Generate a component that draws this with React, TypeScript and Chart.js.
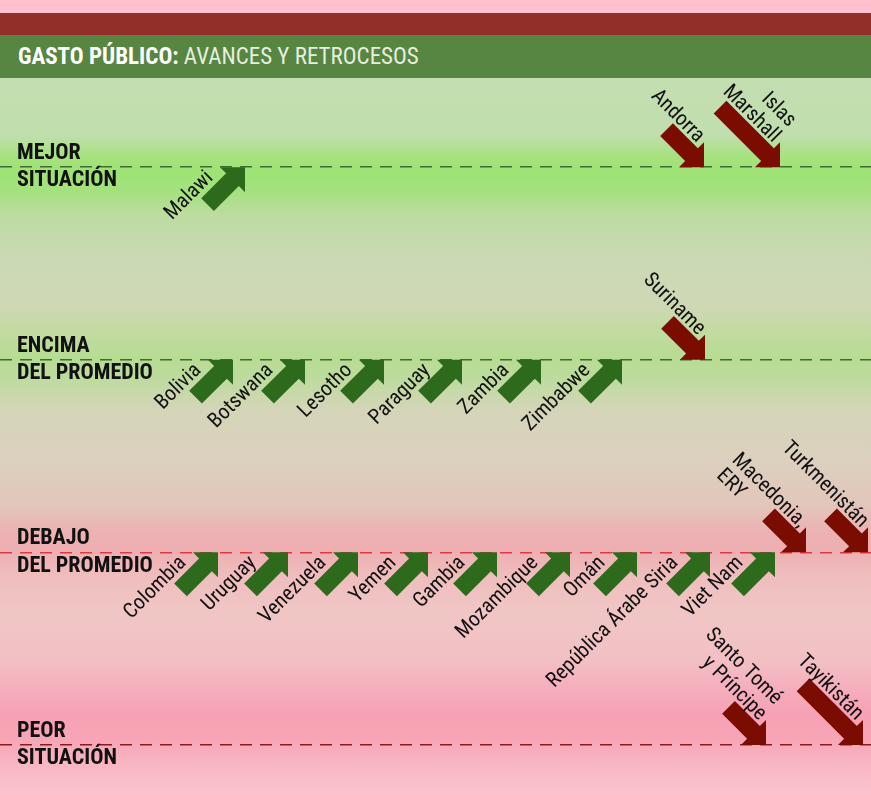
import React, { useEffect, useRef } from "react";
import { Chart, registerables } from "chart.js";

Chart.register(...registerables);

const FONT = '"Roboto Condensed", "Liberation Sans Narrow", Roboto, sans-serif';

// ---- Data ----
const levelValues = [3, 2, 1, 0];
const levelTitles = [
  ["MEJOR", "SITUACIÓN"],
  ["ENCIMA", "DEL PROMEDIO"],
  ["DEBAJO", "DEL PROMEDIO"],
  ["PEOR", "SITUACIÓN"],
];

const countryNames = [
  "Malawi", "Andorra", "Islas\nMarshall",
  "Bolivia", "Botswana", "Lesotho", "Paraguay", "Zambia", "Zimbabwe", "Suriname",
  "Colombia", "Uruguay", "Venezuela", "Yemen", "Gambia", "Mozambique", "Omán",
  "República Árabe Siria", "Viet Nam", "Macedonia,\nERY", "Turkmenistán",
  "Santo Tomé\ny Príncipe", "Tayikistán",
];
const countryLevel = [3, 3, 3, 2, 2, 2, 2, 2, 2, 2, 1, 1, 1, 1, 1, 1, 1, 1, 1, 1, 1, 0, 0];
const countryPosition = [
  245, 704, 780,
  233, 305, 384, 462, 541, 622, 705,
  218, 288, 358, 428, 497, 570, 637, 710, 775, 806, 868,
  766, 863,
];
const countryChange = [
  1, -1, -1.6,
  1, 1, 1, 1, 1, 1, -1,
  1, 1, 1, 1, 1, 1, 1, 1, 1, -1, -1,
  -1, -1.6,
];
const leftAlignedLabels = ["Macedonia,\nERY"];

// ---- Styles ----
const levelLineColors: Record<number, string> = {
  3: "#3f6b31",
  2: "#3f6b31",
  1: "#dc3b3d",
  0: "#8c1c1c",
};
const UP_COLOR = "#2e6a1c";
const DOWN_COLOR = "#7b0c02";

const bgStops: [number, string][] = [
  [78, "#c3dfb1"],
  [135, "#c1deae"],
  [155, "#a8e281"],
  [172, "#9de374"],
  [192, "#a5e17f"],
  [215, "#bddca1"],
  [255, "#cad9b4"],
  [305, "#cfd8b5"],
  [335, "#c0db9f"],
  [358, "#b6dc92"],
  [378, "#bddb9e"],
  [410, "#d5d5b8"],
  [460, "#dcd0be"],
  [505, "#e2c6bb"],
  [530, "#ebb3b3"],
  [550, "#eeaeb2"],
  [575, "#efbdbd"],
  [610, "#f0c6c5"],
  [660, "#f2c0c4"],
  [690, "#f5adbc"],
  [715, "#f7a1b4"],
  [740, "#f7a6b7"],
  [770, "#f9b9c5"],
  [795, "#fcc3ce"],
];

const backgroundPlugin = {
  id: "bandBackground",
  beforeDraw(chart: any) {
    const { ctx, width, height } = chart;
    const g = ctx.createLinearGradient(0, 0, 0, height);
    bgStops.forEach(([y, c]) => {
      const t = Math.min(1, Math.max(0, (y - 78) / height));
      g.addColorStop(t, c);
    });
    ctx.save();
    ctx.fillStyle = g;
    ctx.fillRect(0, 0, width, height);
    ctx.restore();
  },
};

const arrowPlugin = {
  id: "arrows",
  afterDatasetsDraw(chart: any) {
    const ctx = chart.ctx;
    const meta = chart.getDatasetMeta(0);
    const baseLen = 53;
    const h = 17.7;
    const s = 9;
    const lh = 22;
    meta.data.forEach((pt: any, i: number) => {
      const change = countryChange[i];
      const up = change > 0;
      const L = baseLen * Math.abs(change);
      ctx.save();
      ctx.translate(pt.x, pt.y);
      ctx.rotate(up ? -Math.PI / 4 : Math.PI / 4);
      ctx.beginPath();
      ctx.moveTo(0, 0);
      ctx.lineTo(-h, -h);
      ctx.lineTo(-h, -s);
      ctx.lineTo(-L, -s);
      ctx.lineTo(-L, s);
      ctx.lineTo(-h, s);
      ctx.lineTo(-h, h);
      ctx.closePath();
      ctx.fillStyle = up ? UP_COLOR : DOWN_COLOR;
      ctx.fill();

      ctx.fillStyle = "#111";
      ctx.font = `21px ${FONT}`;
      ctx.textBaseline = "alphabetic";
      const name = countryNames[i];
      const lines = name.split("\n");
      if (up) {
        ctx.textAlign = "right";
        lines.forEach((ln, j) => {
          ctx.fillText(ln, -30, -14 - (lines.length - 1 - j) * lh);
        });
      } else if (leftAlignedLabels.includes(name)) {
        const w = ctx.measureText(lines[0]).width;
        ctx.textAlign = "left";
        lines.forEach((ln, j) => {
          ctx.fillText(ln, -22 - w, -12 + j * lh);
        });
      } else {
        ctx.textAlign = "right";
        lines.forEach((ln, j) => {
          ctx.fillText(ln, -22, -12 - (lines.length - 1 - j) * lh);
        });
      }
      ctx.restore();
    });
  },
};

function ChartBlock() {
  const ref = useRef<HTMLCanvasElement | null>(null);
  useEffect(() => {
    if (!ref.current) return;
    const chart = new Chart(ref.current, {
      type: "scatter",
      data: {
        datasets: [
          {
            data: countryPosition.map((x, i) => ({ x, y: countryLevel[i] })),
            pointRadius: 0,
            pointHoverRadius: 0,
            showLine: false,
          },
        ],
      },
      options: {
        animation: false,
        responsive: false,
        devicePixelRatio: 1,
        layout: { padding: 0 },
        plugins: { legend: { display: false }, tooltip: { enabled: false } },
        scales: {
          x: { type: "linear", min: 0, max: 871, display: false },
          y: {
            type: "linear",
            min: -0.26,
            max: 3.463,
            afterBuildTicks: (sc: any) => {
              sc.ticks = levelValues.map((v) => ({ value: v }));
            },
            afterFit: (sc: any) => {
              sc.width = 0;
              sc.paddingTop = 0;
              sc.paddingBottom = 0;
              sc.paddingLeft = 0;
              sc.paddingRight = 0;
            },
            ticks: {
              mirror: true,
              padding: 17,
              color: "#111",
              font: { family: FONT, size: 22, weight: "bold", lineHeight: 1.25 },
              callback: (v: any) => levelTitles[levelValues.indexOf(Number(v))] || "",
            },
            grid: {
              drawTicks: false,
              lineWidth: 1.5,
              color: (c: any) => levelLineColors[c.tick ? c.tick.value : 0] || "#000",
            },
            border: { display: false, dash: [12, 8] },
          },
        },
      },
      plugins: [backgroundPlugin, arrowPlugin],
    } as any);
    return () => chart.destroy();
  }, []);
  return <canvas ref={ref} width={871} height={717} style={{ display: "block" }} />;
}

export default function App() {
  useEffect(() => {
    document.body.style.margin = "0";
  }, []);
  return (
    <div style={{ width: 871, height: 795, position: "relative", overflow: "hidden" }}>
      <div style={{ height: 13, background: "#fec1cd" }} />
      <div style={{ height: 22, background: "#922f29" }} />
      <div
        style={{
          height: 43,
          background: "#578542",
          paddingLeft: 18,
          lineHeight: "44px",
          fontFamily: FONT,
          fontSize: 23,
          whiteSpace: "nowrap",
        }}
      >
        <span style={{ color: "#ffffff", fontWeight: "bold" }}>GASTO PÚBLICO:</span>
        <span style={{ color: "#e6eedf" }}> AVANCES Y RETROCESOS</span>
      </div>
      <ChartBlock />
    </div>
  );
}
